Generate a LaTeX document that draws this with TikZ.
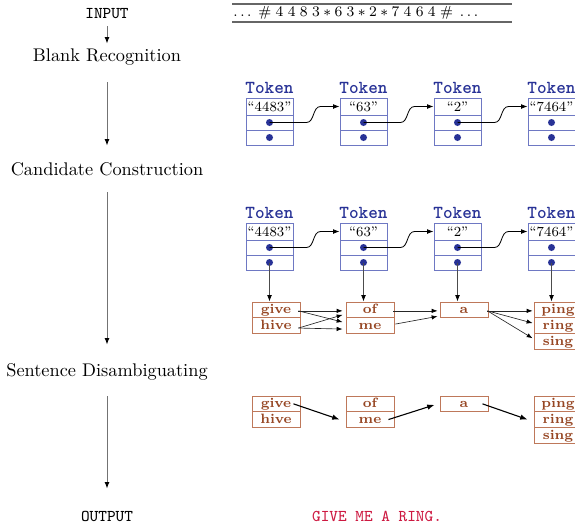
\documentclass[tikz,border=0pt]{standalone}
\usetikzlibrary{arrows.meta,calc}
\def\pxu{0.546pt}
\definecolor{tokblue}{RGB}{40,50,150}
\definecolor{cellblue}{RGB}{110,120,195}
\definecolor{candbrown}{RGB}{150,70,35}
\definecolor{cellbrown}{RGB}{190,120,90}
\definecolor{outred}{RGB}{205,25,65}
\tikzset{
  lbl/.style={inner sep=0pt, text height=7pt, text depth=2pt},
  flow/.style={draw=black!55, line width=0.5pt, -{Latex[length=3.5pt,width=2.6pt,color=black]}},
  ptr/.style={draw=black, line width=0.45pt, -{Latex[length=3.5pt,width=2.6pt]}},
  down/.style={draw=black!70, line width=0.45pt, -{Latex[length=3.5pt,width=2.6pt,color=black]}},
  cand/.style={draw=black!85, line width=0.35pt, -{Latex[length=3.2pt,width=2.4pt,color=black]}},
  sel/.style={draw=black, line width=0.6pt, -{Latex[length=4pt,width=3pt]}},
  tokhead/.style={font=\ttfamily\bfseries, text=tokblue, inner sep=0pt},
  tcell/.style={draw=cellblue, line width=0.5pt, minimum width=47*\pxu, inner sep=0pt, font=\fontsize{7.6}{9}\selectfont, text height=1.5ex, text depth=.25ex},
  tdot/.style={circle, fill=tokblue, inner sep=0pt, minimum size=7*\pxu},
  ccell/.style={draw=cellbrown, line width=0.5pt, minimum width=48*\pxu, minimum height=15.7*\pxu, inner sep=0pt, font=\fontsize{7.4}{9}\selectfont\bfseries, text=candbrown, text height=1.4ex, text depth=.4ex},
  tapeline/.style={draw=black!60, line width=0.6pt}
}
\begin{document}
\begin{tikzpicture}[x=0.546pt,y=-0.546pt]
\useasboundingbox (0,0) rectangle (575,529);
\clip (0,0) rectangle (575,529);

% left column
\node[lbl, font=\small\ttfamily] (inp) at (107,14) {INPUT};
\node[lbl] (blank) at (107,57) {Blank Recognition};
\node[lbl] (candc) at (107,171) {Candidate Construction};
\node[lbl] (sent) at (107,372) {Sentence Disambiguating};
\node[lbl, font=\small\ttfamily] (outp) at (107,517) {OUTPUT};
\draw[flow, shorten <=3.8*\pxu, shorten >=4.8*\pxu] (inp) -- (blank);
\draw[flow, shorten <=16.8*\pxu, shorten >=16.8*\pxu] (blank) -- (candc);
\draw[flow, shorten <=12.8*\pxu, shorten >=18.8*\pxu] (candc) -- (sent);
\draw[flow, shorten <=15.8*\pxu, shorten >=19.8*\pxu] (sent) -- (outp);

% tape
\node[anchor=west, inner sep=0pt, font=\fontsize{8.4}{10}\selectfont] (tape) at (233,13) {$\ldots\;\#\;4\;4\;8\;3\ast6\;3\ast2\ast7\;4\;6\;4\;\#\;\ldots$};
\draw[tapeline] (232,4) -- (512,4);
\draw[tapeline] (232,22) -- (512,22);

% token rows
\foreach \r/\dy in {1/0,2/125}{
  \foreach \i/\x/\t in {1/269.5/{“4483”},2/363.5/{“63”},3/457.5/{“2”},4/551.5/{“7464”}}{
    \node[tokhead] (th\r\i) at (\x,88+\dy) {Token};
    \node[tcell, minimum height=17*\pxu] (ta\r\i) at (\x,106.5+\dy) {\t};
    \node[tcell, minimum height=15*\pxu] (tb\r\i) at (\x,122.5+\dy) {};
    \node[tcell, minimum height=15*\pxu] (tc\r\i) at (\x,137.5+\dy) {};
    \node[tdot] (db\r\i) at (tb\r\i.center) {};
    \node[tdot] (dc\r\i) at (tc\r\i.center) {};
  }
  \foreach \i/\j/\x in {1/2/269.5,2/3/363.5,3/4/457.5}{
    \draw[ptr] (db\r\i.center) -- (\x+37,122.5+\dy) .. controls (\x+45,122.5+\dy) and (\x+43,106.5+\dy) .. (\x+51,106.5+\dy) -- (ta\r\j.west);
  }
}

% candidate row
\node[ccell] (g1) at (276,309.85) {give};
\node[ccell] (g2) at (276,325.55) {hive};
\node[ccell] (o1) at (370,309.85) {of};
\node[ccell] (o2) at (370,325.55) {me};
\node[ccell] (a1) at (464,309.85) {a};
\node[ccell] (p1) at (558,309.85) {ping};
\node[ccell] (p2) at (558,325.55) {ring};
\node[ccell] (p3) at (558,341.25) {sing};

\foreach \i/\n in {1/g1,2/o1,3/a1,4/p1}{
  \draw[down] (dc2\i.center) -- (dc2\i.center |- \n.north);
}

\draw[cand] ($(g1.east)+(-2,1)$) -- ($(o1.west)+(-3,1)$);
\draw[cand] ($(g1.east)+(-2,1)$) -- ($(o2.west)+(-3,-3.5)$);
\draw[cand] ($(g2.east)+(-2,2.5)$) -- ($(o1.west)+(-3,5)$);
\draw[cand] ($(g2.east)+(-2,2.5)$) -- ($(o2.west)+(-3,3.5)$);
\draw[cand] ($(o1.east)+(-1,1)$) -- ($(a1.west)+(-2,1)$);
\draw[cand] ($(o2.east)+(1,-1.5)$) -- ($(a1.west)+(-2,6.5)$);
\draw[cand] ($(a1.east)+(-1,1)$) -- ($(p1.west)+(-1,1)$);
\draw[cand] ($(a1.east)+(-1,1)$) -- ($(p2.west)+(-1,-2.5)$);
\draw[cand] ($(a1.east)+(-1,1)$) -- ($(p3.west)+(-1,-3)$);

% disambiguated row
\node[ccell] (G1) at (276,403.85) {give};
\node[ccell] (G2) at (276,419.55) {hive};
\node[ccell] (O1) at (370,403.85) {of};
\node[ccell] (O2) at (370,419.55) {me};
\node[ccell] (A1) at (464,403.85) {a};
\node[ccell] (P1) at (558,403.85) {ping};
\node[ccell] (P2) at (558,419.55) {ring};
\node[ccell] (P3) at (558,435.25) {sing};

\draw[sel] ($(G1.east)+(-7,0)$) -- ($(O2.west)+(-6,0)$);
\draw[sel] ($(O2.east)+(-6,0)$) -- ($(A1.west)+(-5,1)$);
\draw[sel] ($(A1.east)+(-6,0)$) -- ($(P2.west)+(-6,0)$);

% output
\node[lbl, font=\small\ttfamily, text=outred] (res) at (377,517) {GIVE ME A RING.};
\end{tikzpicture}
\end{document}
